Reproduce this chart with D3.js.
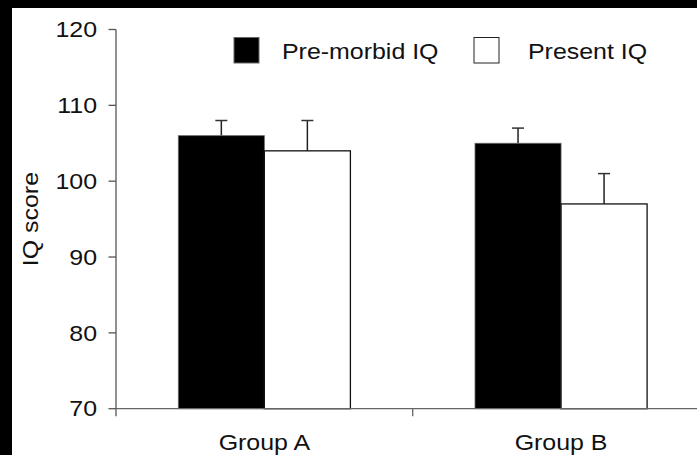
<!DOCTYPE html>
<html>
<head>
<meta charset="utf-8">
<script src="https://cdn.jsdelivr.net/npm/d3@7"></script>
<style>
  html, body { margin: 0; padding: 0; background: #000; }
  svg { display: block; }
  text { font-family: "Liberation Sans", Arial, Helvetica, sans-serif; fill: #111; }
</style>
</head>
<body>
<div id="chart"></div>
<script>
// data
const groups = ["Group A", "Group B"];
const seriesNames = ["Pre-morbid IQ", "Present IQ"];
const preMorbid = [106, 105];
const preMorbidErr = [2, 2];
const present = [104, 97];
const presentErr = [4, 4];
const yTicks = [70, 80, 90, 100, 110, 120];

const width = 697, height = 455;
const svg = d3.select("#chart").append("svg")
  .attr("width", width)
  .attr("height", height);

// white paper inside black frame
svg.append("rect")
  .attr("x", 12).attr("y", 8)
  .attr("width", width - 12).attr("height", height - 8)
  .attr("fill", "#fff");

const fills = ["#000", "#fff"];
const stretch = 1.16; // glyphs in the picture are a bit wide
const fontSize = 21.5;

const y = d3.scaleLinear().domain([70, 120]).range([408.7, 29.5]);
const x0 = d3.scaleBand().domain(groups).range([116, 709.4]);
const bw = x0.bandwidth();
const x1 = d3.scaleBand().domain(seriesNames).range([bw * 0.21, bw * 0.79]);

const rows = groups.map((g, i) => ({
  group: g,
  vals: [
    { s: seriesNames[0], v: preMorbid[i], e: preMorbidErr[i] },
    { s: seriesNames[1], v: present[i], e: presentErr[i] }
  ]
}));

// error bars first (upper half only, bar covers the rest)
const g = svg.append("g");
rows.forEach(r => {
  r.vals.forEach((d, j) => {
    const cx = x0(r.group) + x1(d.s) + x1.bandwidth() / 2;
    g.append("line")
      .attr("x1", cx).attr("x2", cx)
      .attr("y1", y(d.v)).attr("y2", y(d.v + d.e))
      .attr("stroke", "#222").attr("stroke-width", 1.5);
    g.append("line")
      .attr("x1", cx - 6).attr("x2", cx + 6)
      .attr("y1", y(d.v + d.e)).attr("y2", y(d.v + d.e))
      .attr("stroke", "#333").attr("stroke-width", 1.5);
  });
});

rows.forEach(r => {
  r.vals.forEach((d, j) => {
    g.append("rect")
      .attr("x", x0(r.group) + x1(d.s))
      .attr("y", y(d.v))
      .attr("width", x1.bandwidth())
      .attr("height", y(70) - y(d.v))
      .attr("fill", fills[j])
      .attr("stroke", j === 0 ? "#666" : "#111")
      .attr("stroke-width", j === 0 ? 0.8 : 1.3);
  });
});

// y axis
const yAxis = svg.append("g");
yAxis.append("line")
  .attr("x1", 116).attr("x2", 116)
  .attr("y1", y(120)).attr("y2", y(70) + 7.5)
  .attr("stroke", "#555").attr("stroke-width", 1.3);
yTicks.forEach(t => {
  yAxis.append("line")
    .attr("x1", 108.5).attr("x2", 116)
    .attr("y1", y(t)).attr("y2", y(t))
    .attr("stroke", "#555").attr("stroke-width", 1.3);
  yAxis.append("text")
    .attr("transform", `translate(97,${y(t)}) scale(${stretch},1)`)
    .attr("dy", "0.36em")
    .attr("text-anchor", "end")
    .style("font-size", fontSize + "px")
    .text(t);
});

// x axis
const xAxis = svg.append("g");
xAxis.append("line")
  .attr("x1", 116).attr("x2", width)
  .attr("y1", y(70)).attr("y2", y(70))
  .attr("stroke", "#666").attr("stroke-width", 1.3);
[x0.range()[0] + bw].forEach(xt => {
  xAxis.append("line")
    .attr("x1", xt).attr("x2", xt)
    .attr("y1", y(70)).attr("y2", y(70) + 7.5)
    .attr("stroke", "#666").attr("stroke-width", 1.3);
});
groups.forEach(gr => {
  xAxis.append("text")
    .attr("transform", `translate(${x0(gr) + bw / 2},450) scale(${stretch},1)`)
    .attr("text-anchor", "middle")
    .style("font-size", fontSize + "px")
    .text(gr);
});

// y label
svg.append("text")
  .attr("transform", `translate(38,${(y(70) + y(120)) / 2}) rotate(-90) scale(${stretch},1)`)
  .attr("text-anchor", "middle")
  .style("font-size", fontSize + "px")
  .text("IQ score");

// legend
const legendX = [234, 474];
const legendTextX = [282, 528];
seriesNames.forEach((s, i) => {
  svg.append("rect")
    .attr("x", legendX[i]).attr("y", 37.5)
    .attr("width", 25).attr("height", 25.5)
    .attr("fill", fills[i])
    .attr("stroke", i === 0 ? "#666" : "#222")
    .attr("stroke-width", 1);
  svg.append("text")
    .attr("transform", `translate(${legendTextX[i]},59) scale(${stretch},1)`)
    .style("font-size", fontSize + "px")
    .text(s);
});
</script>
</body>
</html>
